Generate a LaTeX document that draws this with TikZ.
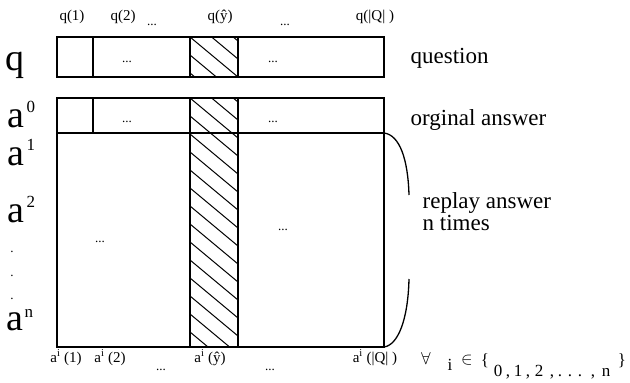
\documentclass[tikz,border=0pt]{standalone}
\usepackage{fontspec}
\setmainfont{Liberation Serif}
\begin{document}
\begin{tikzpicture}[x=1pt,y=-1pt, line width=1.3pt,
  lbl/.style={inner sep=0pt, anchor=base, font=\fontsize{15}{15}\selectfont},
  setl/.style={inner sep=0pt, anchor=base, font=\fontsize{17}{17}\selectfont},
  seth/.style={inner sep=0pt, anchor=base, font=\fontsize{17}{17}\selectfont},
  side/.style={inner sep=0pt, anchor=base west, font=\fontsize{23}{23}\selectfont},
  big/.style={inner sep=0pt, anchor=base west, font=\fontsize{38}{38}\selectfont},
  sup/.style={inner sep=0pt, anchor=base west, font=\fontsize{17}{17}\selectfont},
  cdots/.style={inner sep=0pt, anchor=base, font=\fontsize{13}{13}\selectfont},
  hatch/.style={line width=1pt}]
\useasboundingbox (0,0) rectangle (630,383);
% question row
\draw (57,37) rectangle (384,77);
\draw (93,37) -- (93,77) (190,37) -- (190,77) (238,37) -- (238,77);
\begin{scope}
  \clip (190,37) rectangle (238,77);
  \foreach \k in {-4,...,3} \draw[hatch] (190,37+\k*18) -- ++(60,50);
\end{scope}
% answer block
\draw (57,98) rectangle (384,347);
\draw (57,133) -- (384,133);
\draw (93,98) -- (93,133);
\draw (190,98) -- (190,347) (238,98) -- (238,347);
\begin{scope}
  \clip (190,98) rectangle (238,347);
  \foreach \k in {-4,...,14} \draw[hatch] (190,98+\k*18) -- ++(60,50);
\end{scope}
% brace
\coordinate (bTR) at (384,133);
\coordinate (bBR) at (384,347);
\coordinate (br1) at (409,195);
\coordinate (br2) at (409,279);
\draw (bTR) .. controls (400,135) and (408,160) .. (br1);
\draw (bBR) .. controls (398,345) and (408,320) .. (br2);
% top labels
\node[lbl] (t1) at (72,20) {q(1)};
\node[lbl] (t2) at (123,20) {q(2)};
\node[cdots] (t3) at (152,25) {...};
\node[lbl] (t4) at (220,20) {q(ŷ)};
\node[cdots] (t5) at (285,25) {...};
\node[lbl] (t6) at (375,20) {q(|Q| )};
% dots inside boxes
\node[cdots] (d1) at (127,62) {...};
\node[cdots] (d2) at (273,62) {...};
\node[cdots] (d3) at (127,122) {...};
\node[cdots] (d4) at (273,122) {...};
\node[cdots] (d5) at (100,242) {...};
\node[cdots] (d6) at (283,230) {...};
% left labels
\node[big] (lq) at (5,70) {q};
\node[big] (la0) at (7,127) {a};
\node[sup] (sa0) at (26,112) {0};
\node[big] (la1) at (7,165) {a};
\node[sup] (sa1) at (26,150) {1};
\node[big] (la2) at (7,222) {a};
\node[sup] (sa2) at (26,207) {2};
\node[cdots] (v1) at (12,252) {.};
\node[cdots] (v2) at (12,276) {.};
\node[cdots] (v3) at (12,299) {.};
\node[big] (lan) at (6,330) {a};
\node[sup] (san) at (24,317) {n};
% right labels
\node[side] (rq) at (410,63) {question};
\node[side] (ra) at (410,125) {orginal answer};
\node[side] (rr) at (422,208) {replay answer};
\node[side] (rn) at (422,230) {n times};
% bottom labels
\node[lbl] (b1) at (66,362) {a\textsuperscript{i} (1)};
\node[lbl] (b2) at (110,362) {a\textsuperscript{i} (2)};
\node[cdots] (b3) at (161,370) {...};
\node[lbl] (b4) at (210,362) {a\textsuperscript{i} (ŷ)};
\node[cdots] (b5) at (270,370) {...};
\node[lbl] (b6) at (375,362) {a\textsuperscript{i} (|Q| )};
% for all i in {0,1,2,...,n}
\node[seth] (f1) at (426,364) {$\forall$};
\node[setl] (f2) at (450,370) {i};
\node[seth] (f3) at (467,364) {$\in$};
\node[seth] (f4) at (485,365) {\{};
\node[setl] (f5) at (498,376) {0};
\node[setl] (f6) at (508,376) {,};
\node[setl] (f7) at (518,376) {1};
\node[setl] (f8) at (528,376) {,};
\node[setl] (f9) at (539,376) {2};
\node[setl] (f10) at (552,376) {,};
\node[setl] (f11) at (570,376) {. . .};
\node[setl] (f12) at (593,376) {,};
\node[setl] (f13) at (606,376) {n};
\node[seth] (f14) at (622,365) {\}};
\end{tikzpicture}
\end{document}
